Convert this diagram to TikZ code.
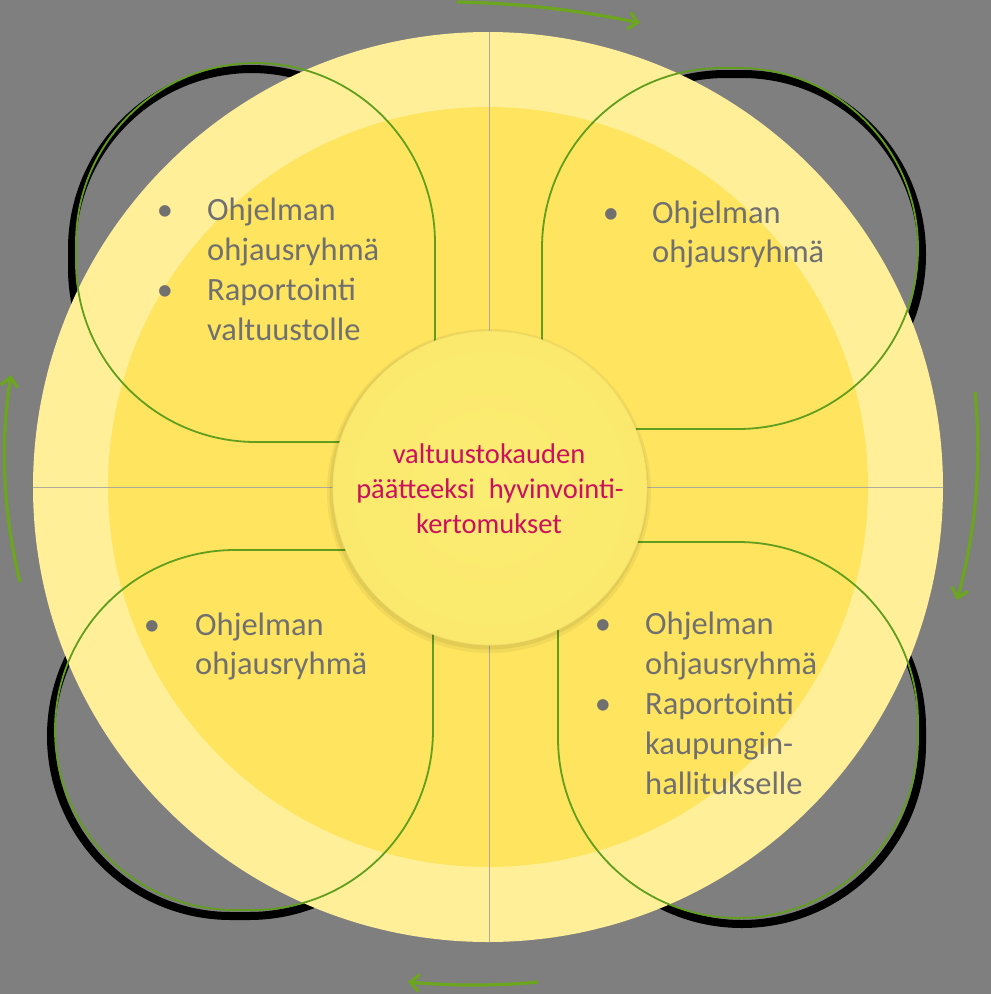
\documentclass[tikz,border=0pt]{standalone}
\usepackage{fontspec}
\setmainfont{Carlito}
\usetikzlibrary{arrows.meta}
\definecolor{bg}{RGB}{127,127,127}
\definecolor{ringc}{RGB}{255,239,153}
\definecolor{innerc}{RGB}{255,229,95}
\definecolor{petalg}{RGB}{98,158,30}
\definecolor{arrowg}{RGB}{108,166,30}
\definecolor{txtg}{RGB}{112,112,112}
\definecolor{magc}{RGB}{204,16,96}
\definecolor{crossc}{RGB}{176,170,155}
\definecolor{hubrim}{RGB}{240,222,110}
\pgfdeclareradialshading{cball}{\pgfpoint{0bp}{0bp}}{rgb(0bp)=(0.985,0.925,0.45); rgb(40bp)=(0.978,0.908,0.405); rgb(46bp)=(0.96,0.885,0.37); rgb(48.5bp)=(0.945,0.87,0.35); rgb(50bp)=(0.975,0.915,0.44)}
\tikzset{
  petalline/.style={draw=petalg, line width=1.8pt},
  petalshadow/.style={draw=black, line width=8pt},
  ptxt/.style={font=\fontsize{32.5}{40}\selectfont, text=txtg, inner sep=0pt, anchor=base west},
  pbul/.style={font=\fontsize{32.5}{40}\selectfont, text=txtg, inner sep=0pt, anchor=base},
  ctxt/.style={font=\fontsize{28.5}{35}\selectfont, text=magc, inner sep=0pt, anchor=base},
  cyclearrow/.style={draw=arrowg, line width=3.2pt, -{Straight Barb[length=9pt,width=17pt]}},
  crossline/.style={draw=crossc, line width=1pt},
  pTL/.style={insert path={(435,442) -- (435,243) arc[start angle=0,end angle=-90,radius=180] -- (256,63) arc[start angle=-90,end angle=-180,radius=180] -- (76,262) arc[start angle=180,end angle=90,radius=180] -- cycle}},
  pTR/.style={insert path={(542,429) -- (542,248) arc[start angle=180,end angle=270,radius=180] -- (738,68) arc[start angle=270,end angle=360,radius=180] -- (918,249) arc[start angle=0,end angle=90,radius=180] -- cycle}},
  pBL/.style={insert path={(433,550) -- (433,730) arc[start angle=0,end angle=90,radius=180] -- (235,910) arc[start angle=90,end angle=180,radius=180] -- (55,730) arc[start angle=180,end angle=270,radius=180] -- cycle}},
  pBR/.style={insert path={(558,542) -- (738,542) arc[start angle=270,end angle=360,radius=180] -- (918,738) arc[start angle=0,end angle=90,radius=180] -- (738,918) arc[start angle=90,end angle=180,radius=180] -- cycle}},
}
\begin{document}
\begin{tikzpicture}[x=1pt,y=-1pt]
\useasboundingbox (0,0) rectangle (991,994);
\fill[bg] (0,0) rectangle (991,994);
% shadows of the petals
\draw[petalshadow, shift={(-4,6)}, pTL];
\draw[petalshadow, shift={(4,6)}, pTR];
\draw[petalshadow, shift={(-4,6)}, pBL];
\draw[petalshadow, shift={(4,6)}, pBR];
% rings
\fill[ringc] (488,487) circle (455);
\fill[innerc] (488,487) circle (380);
% cross lines
\draw[crossline] (489,32) -- (489,942);
\draw[crossline] (33,487) -- (943,487);
% petals
\draw[petalline, pTL];
\draw[petalline, pTR];
\draw[petalline, pBL];
\draw[petalline, pBR];
% hub
\fill[black, opacity=0.05] (489,491) circle (162);
\fill[black, opacity=0.06] (489,490) circle (159.5);
\node[circle, minimum size=314pt, inner sep=0pt, shading=cball, draw=hubrim, line width=0.6pt] (hub) at (490,488) {};
\node[ctxt] (c1) at (489,463) {valtuustokauden};
\node[ctxt] (c2) at (490,498) {päätteeksi\hspace{14pt}hyvinvointi-};
\node[ctxt] (c3) at (489,533) {kertomukset};
% top-left texts
\node[pbul] (tlb1) at (165,220) {•};
\node[ptxt] (tl1) at (207,220) {Ohjelman};
\node[ptxt] (tl2) at (207,260) {ohjausryhmä};
\node[pbul] (tlb2) at (165,300) {•};
\node[ptxt] (tl3) at (207,300) {Raportointi};
\node[ptxt] (tl4) at (207,340) {valtuustolle};
% top-right texts
\node[pbul] (trb1) at (611,223) {•};
\node[ptxt] (tr1) at (652,223) {Ohjelman};
\node[ptxt] (tr2) at (652,262) {ohjausryhmä};
% bottom-left texts
\node[pbul] (blb1) at (152,635) {•};
\node[ptxt] (bl1) at (195,635) {Ohjelman};
\node[ptxt] (bl2) at (195,674) {ohjausryhmä};
% bottom-right texts
\node[pbul] (brb1) at (603,634) {•};
\node[ptxt] (br1) at (645,634) {Ohjelman};
\node[ptxt] (br2) at (645,674) {ohjausryhmä};
\node[pbul] (brb2) at (603,714) {•};
\node[ptxt] (br3) at (645,714) {Raportointi};
\node[ptxt] (br4) at (645,754) {kaupungin-};
\node[ptxt] (br5) at (645,794) {hallitukselle};
% cycle arrows
\draw[cyclearrow] (457,2) .. controls (517,3) and (578,10) .. (640,23);
\draw[cyclearrow] (975,392) .. controls (982,461) and (976,531) .. (957,600);
\draw[cyclearrow] (538,982) .. controls (497,986) and (454,986) .. (408,982);
\draw[cyclearrow] (20,582) .. controls (3,512) and (0,443) .. (11,375);
\end{tikzpicture}
\end{document}
